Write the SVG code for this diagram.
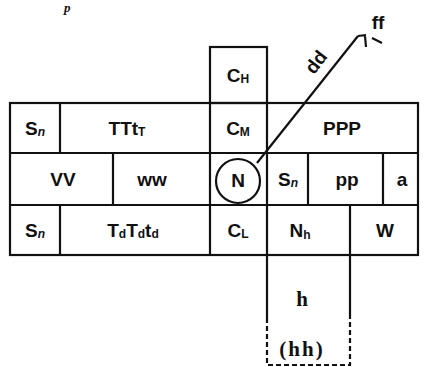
<svg xmlns="http://www.w3.org/2000/svg" width="424" height="367" viewBox="0 0 424 367">
<style>
.g{fill:none;stroke:#111;stroke-width:2.2}
.t{font-family:"Liberation Sans",Arial,sans-serif;font-size:19px;fill:#111;text-anchor:middle;dominant-baseline:central;font-weight:bold}
.sf{font-family:"Liberation Serif","Times New Roman",serif;font-size:21px}
.s{font-size:12px}
.i{font-style:italic}
</style>
<rect width="424" height="367" fill="#fff"/>
<text x="64" y="12" font-family="Liberation Serif,serif" font-size="13" font-weight="bold" font-style="italic" fill="#111">p</text>
<g id="connectors">
<path class="g" d="M257,163 L358,36"/>
<path class="g" stroke-width="2" d="M358,36 L366,35 M365,36 L366,47 M372,38 L382,43"/>
</g>
<g id="grid">
<rect class="g" x="10" y="103" width="408" height="152"/>
<path class="g" d="M10,153 H418 M10,205 H418 M60,103 V153 M210,103 V255 M267,103 V255 M113,153 V205 M308,153 V205 M383,153 V205 M60,205 V255 M350,205 V255"/>
</g>
<g id="CH"><rect class="g" x="210" y="47" width="57" height="56"/><text class="t" x="238" y="75">C<tspan class="s" dy="4">H</tspan></text></g>
<g id="h-box">
<path class="g" d="M267,255 V318 M350,255 V318"/>
<path class="g" stroke-dasharray="5,3" d="M267,318 V365 H350 V318"/>
<text class="t sf" x="302" y="299">h</text>
<text class="t sf" x="302" y="349" letter-spacing="2">(hh)</text>
</g>
<g id="Sn1"><text class="t" x="35" y="128">S<tspan class="s i" dy="4">n</tspan></text></g>
<g id="TTt"><text class="t" x="127" y="128">TTt<tspan class="s" dy="4">T</tspan></text></g>
<g id="CM"><text class="t" x="238" y="128">C<tspan class="s" dy="4">M</tspan></text></g>
<g id="PPP"><text class="t" x="342" y="128">PPP</text></g>
<g id="VV"><text class="t" x="63" y="179">VV</text></g>
<g id="ww"><text class="t" x="152" y="179">ww</text></g>
<g id="N"><circle class="g" cx="238" cy="181" r="22"/><text class="t" x="238" y="180">N</text></g>
<g id="Sn2"><text class="t" x="288" y="179">S<tspan class="s i" dy="4">n</tspan></text></g>
<g id="pp"><text class="t" x="347" y="179">pp</text></g>
<g id="a"><text class="t" x="402" y="179">a</text></g>
<g id="Sn3"><text class="t" x="35" y="230">S<tspan class="s i" dy="4">n</tspan></text></g>
<g id="TdTdtd"><text class="t" x="133" y="230">T<tspan class="s" dy="4">d</tspan><tspan dy="-4">T</tspan><tspan class="s" dy="4">d</tspan><tspan dy="-4">t</tspan><tspan class="s" dy="4">d</tspan></text></g>
<g id="CL"><text class="t" x="238" y="230">C<tspan class="s" dy="4">L</tspan></text></g>
<g id="Nh"><text class="t" x="300" y="230">N<tspan class="s" dy="5">h</tspan></text></g>
<g id="W"><text class="t" x="385" y="230">W</text></g>
<g id="dd"><text class="t" transform="translate(316,62) rotate(-52)">dd</text></g>
<g id="ff"><text class="t" x="378" y="22">ff</text></g>
</svg>
